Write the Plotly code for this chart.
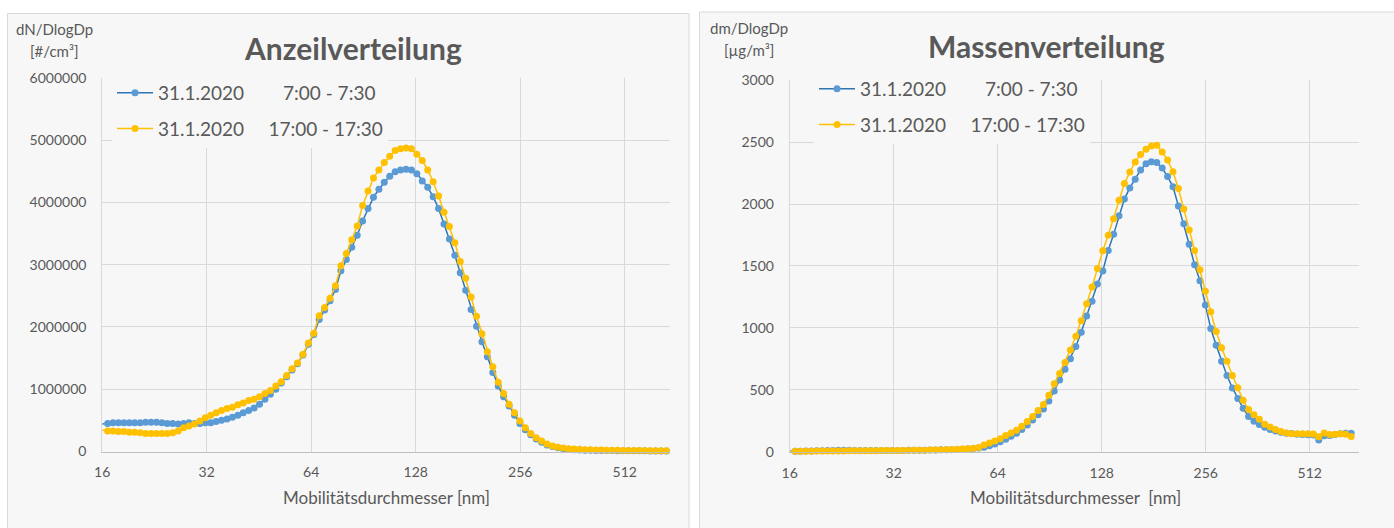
import plotly.graph_objects as go
import math

W, H = 1394, 528

# ---------------- data ----------------
diameter_nm = [
    16.00, 16.59, 17.19, 17.82, 18.48, 19.15, 19.86, 20.58, 21.34, 22.12,
    22.93, 23.77, 24.64, 25.54, 26.48, 27.45, 28.45, 29.49, 30.58, 31.70,
    32.86, 34.06, 35.31, 36.60, 37.94, 39.33, 40.77, 42.27, 43.81, 45.42,
    47.08, 48.81, 50.60, 52.45, 54.37, 56.36, 58.43, 60.57, 62.79, 65.09,
    67.47, 69.94, 72.51, 75.16, 77.91, 80.77, 83.73, 86.80, 89.97, 93.27,
    96.69, 100.23, 103.90, 107.71, 111.65, 115.74, 119.98, 124.38, 128.93, 133.66,
    138.55, 143.63, 148.89, 154.35, 160.00, 165.86, 171.94, 178.24, 184.76, 191.53,
    198.55, 205.82, 213.36, 221.18, 229.28, 237.68, 246.39, 255.42, 264.77, 274.46,
    284.52, 294.95, 305.75, 316.95, 328.56, 340.60, 353.08, 366.00, 379.41, 393.31,
    407.72, 422.66, 438.14, 454.19, 470.83, 488.07, 505.95, 524.48, 543.70, 563.62,
    584.26, 605.66, 627.84, 650.84, 674.68,
]

# number distribution, in millions #/cm3
number_morning_M = [
    0.44, 0.45, 0.46, 0.46, 0.46, 0.46, 0.46, 0.46, 0.47, 0.47,
    0.47, 0.46, 0.45, 0.45, 0.44, 0.45, 0.46, 0.45, 0.45, 0.46,
    0.46, 0.48, 0.50, 0.52, 0.55, 0.58, 0.62, 0.66, 0.70, 0.76,
    0.84, 0.92, 1.00, 1.10, 1.20, 1.31, 1.41, 1.55, 1.72, 1.88,
    2.12, 2.27, 2.42, 2.60, 2.90, 3.08, 3.28, 3.47, 3.70, 3.90,
    4.08, 4.21, 4.32, 4.42, 4.49, 4.52, 4.53, 4.52, 4.46, 4.34,
    4.24, 4.09, 3.90, 3.65, 3.41, 3.15, 2.87, 2.59, 2.28, 2.01,
    1.76, 1.52, 1.27, 1.05, 0.88, 0.73, 0.58, 0.45, 0.35, 0.27,
    0.20, 0.15, 0.105, 0.08, 0.06, 0.045, 0.035, 0.03, 0.025, 0.022,
    0.02, 0.018, 0.017, 0.016, 0.015, 0.014, 0.013, 0.012, 0.012, 0.011,
    0.011, 0.01, 0.01, 0.01, 0.01,
]
number_evening_M = [
    0.34, 0.33, 0.33, 0.32, 0.32, 0.31, 0.31, 0.30, 0.29, 0.29,
    0.29, 0.29, 0.29, 0.30, 0.33, 0.38, 0.41, 0.44, 0.49, 0.54,
    0.58, 0.62, 0.66, 0.69, 0.71, 0.75, 0.78, 0.82, 0.84, 0.88,
    0.93, 0.98, 1.05, 1.12, 1.22, 1.33, 1.42, 1.56, 1.74, 1.90,
    2.18, 2.31, 2.46, 2.66, 2.98, 3.18, 3.40, 3.62, 3.95, 4.18,
    4.39, 4.52, 4.64, 4.74, 4.83, 4.86, 4.87, 4.86, 4.77, 4.67,
    4.52, 4.33, 4.10, 3.84, 3.61, 3.35, 3.05, 2.78, 2.48, 2.17,
    1.89, 1.60, 1.36, 1.11, 0.93, 0.76, 0.62, 0.49, 0.38, 0.29,
    0.22, 0.17, 0.12, 0.09, 0.07, 0.055, 0.045, 0.04, 0.035, 0.03,
    0.028, 0.026, 0.024, 0.022, 0.02, 0.02, 0.018, 0.017, 0.016, 0.015,
    0.015, 0.014, 0.013, 0.012, 0.012,
]
number_morning = [v * 1e6 for v in number_morning_M]
number_evening = [v * 1e6 for v in number_evening_M]

# mass distribution, ug/m3
mass_morning = [
    3, 3, 4, 5, 6, 7, 8, 9, 10, 11,
    11, 11, 10, 10, 9, 9, 9, 9, 9, 10,
    10, 10, 11, 11, 12, 12, 13, 14, 15, 16,
    16, 17, 19, 22, 25, 30, 36, 48, 62, 80,
    100, 125, 150, 180, 215, 255, 298, 345, 410, 490,
    580, 665, 750, 850, 965, 1095, 1215, 1355, 1460, 1625,
    1755, 1905, 2040, 2130, 2200, 2275, 2325, 2342, 2335, 2290,
    2222, 2140, 1985, 1840, 1675, 1510, 1380, 1185, 995, 860,
    730, 615, 515, 430, 350, 285, 245, 220, 198, 180,
    167, 158, 150, 146, 140, 138, 136, 135, 95, 128,
    130, 138, 145, 148, 148,
]
mass_evening = [
    2, 3, 3, 4, 4, 5, 5, 5, 6, 6,
    6, 7, 7, 7, 8, 8, 8, 9, 9, 10,
    10, 10, 11, 11, 12, 12, 13, 14, 15, 16,
    17, 19, 21, 24, 28, 33, 55, 70, 86, 105,
    130, 152, 174, 205, 243, 285, 332, 382, 455, 548,
    632, 720, 822, 932, 1058, 1195, 1330, 1480, 1622, 1748,
    1882, 2030, 2165, 2258, 2340, 2400, 2442, 2468, 2475, 2420,
    2355, 2260, 2125, 1960, 1790, 1625, 1470, 1295, 1130, 970,
    840, 730, 615, 517, 415, 340, 298, 262, 222, 199,
    180, 163, 152, 144, 145, 145, 144, 142, 120, 152,
    138, 140, 145, 140, 122,
]

series_names = ["31.1.2020" + "\u00a0" * 8 + "7:00 - 7:30",
                "31.1.2020" + "\u00a0" * 5 + "17:00 - 17:30"]
x_tickvals = [16, 32, 64, 128, 256, 512]
x_ticktext = ["16", "32", "64", "128", "256", "512"]
yN_tickvals = [0, 1000000, 2000000, 3000000, 4000000, 5000000, 6000000]
yN_ticktext = ["0", "1000000", "2000000", "3000000", "4000000", "5000000", "6000000"]
yM_tickvals = [0, 500, 1000, 1500, 2000, 2500, 3000]
yM_ticktext = ["0", "500", "1000", "1500", "2000", "2500", "3000"]

# ---------------- style ----------------
FONT = "Lato"
TXT = "#595959"
PANEL = "#F7F7F7"
GRID = "#D9D9D9"
BLUE_M, BLUE_L = "#5B9BD5", "#2E75B6"
ORANGE = "#FFC000"


def px(x):
    return x / W


def py(y):
    return 1 - y / H


fig = go.Figure()

for xa, ya, lg, yb, yo in [("x", "y", "legend", number_morning, number_evening),
                           ("x2", "y2", "legend2", mass_morning, mass_evening)]:
    fig.add_trace(go.Scatter(x=diameter_nm, y=yb, mode="lines+markers", name=series_names[0],
                             xaxis=xa, yaxis=ya, legend=lg, legendgroup=lg + "a",
                             cliponaxis=False,
                             line=dict(color=BLUE_L, width=1.5),
                             marker=dict(color=BLUE_M, size=7)))
    fig.add_trace(go.Scatter(x=diameter_nm, y=yo, mode="lines+markers", name=series_names[1],
                             xaxis=xa, yaxis=ya, legend=lg, legendgroup=lg + "b",
                             cliponaxis=False,
                             line=dict(color=ORANGE, width=1.5),
                             marker=dict(color=ORANGE, size=7)))

xcommon = dict(type="log", tickvals=x_tickvals, ticktext=x_ticktext, showgrid=True,
               gridcolor=GRID, gridwidth=1, showline=True, linecolor="#BFBFBF", linewidth=1,
               ticks="outside", ticklen=8, tickcolor="rgba(0,0,0,0)", automargin=False,
               tickfont=dict(family=FONT, size=14, color=TXT), zeroline=False, fixedrange=True)
ycommon = dict(showgrid=True, gridcolor=GRID, gridwidth=1, showline=True, linecolor=GRID,
               linewidth=1, ticks="outside", ticklen=12, tickcolor="rgba(0,0,0,0)",
               automargin=False,
               tickfont=dict(family=FONT, size=14, color=TXT), zeroline=False, fixedrange=True)

fig.update_layout(
    width=W, height=H, autosize=False,
    margin=dict(l=0, r=0, t=0, b=0, autoexpand=False),
    paper_bgcolor="white", plot_bgcolor="rgba(0,0,0,0)",
    font=dict(family=FONT, color=TXT),
    hovermode=False,
    xaxis=dict(xcommon, domain=[px(102.2), px(670)], range=[math.log10(16), math.log10(691)],
               anchor="y"),
    yaxis=dict(ycommon, domain=[py(451.5), py(77.7)], range=[0, 6000000],
               tickvals=yN_tickvals, ticktext=yN_ticktext, anchor="x"),
    xaxis2=dict(xcommon, domain=[px(789.7), px(1359)], range=[math.log10(16), math.log10(711)],
                anchor="y2"),
    yaxis2=dict(ycommon, domain=[py(451.7), py(80.2)], range=[0, 3000],
                tickvals=yM_tickvals, ticktext=yM_ticktext, anchor="x2"),
    legend=dict(x=px(112), y=py(74), xanchor="left", yanchor="top", bgcolor=PANEL,
                font=dict(family=FONT, size=19, color=TXT), tracegroupgap=8,
                itemwidth=36),
    legend2=dict(x=px(814), y=py(70), xanchor="left", yanchor="top", bgcolor=PANEL,
                 font=dict(family=FONT, size=19, color=TXT), tracegroupgap=8,
                 itemwidth=36),
    showlegend=True,
)

# panels
fig.add_shape(type="rect", xref="paper", yref="paper", x0=px(7.5), x1=px(689), y0=-0.05,
              y1=py(13.5), fillcolor=PANEL, line=dict(color=GRID, width=1), layer="below")
fig.add_shape(type="rect", xref="paper", yref="paper", x0=px(699.5), x1=1.05, y0=-0.05,
              y1=py(12), fillcolor=PANEL, line=dict(color=GRID, width=1), layer="below")


def ann(text, x, y, size, bold=False):
    fig.add_annotation(text=f"<b>{text}</b>" if bold else text, xref="paper", yref="paper",
                       x=px(x), y=py(y), xanchor="center", yanchor="middle", showarrow=False,
                       font=dict(family=FONT, size=size, color=TXT))


ann("Anzeilverteilung", 353, 48, 30, bold=True)
ann("Massenverteilung", 1046, 46, 30, bold=True)
ann("dN/DlogDp", 55, 29, 15)
ann("[#/cm³]", 55, 51, 15)
ann("dm/DlogDp", 749, 28, 15)
ann("[µg/m³]", 749, 50, 15)
ann("Mobilitätsdurchmesser [nm]", 386, 497, 17)
ann("Mobilitätsdurchmesser\u00a0\u00a0[nm]", 1075, 497, 17)

fig.write_html("out.html",
               config={"displayModeBar": False, "staticPlot": True},
               post_script="document.body.style.margin='0px';document.body.style.overflow='hidden';")
